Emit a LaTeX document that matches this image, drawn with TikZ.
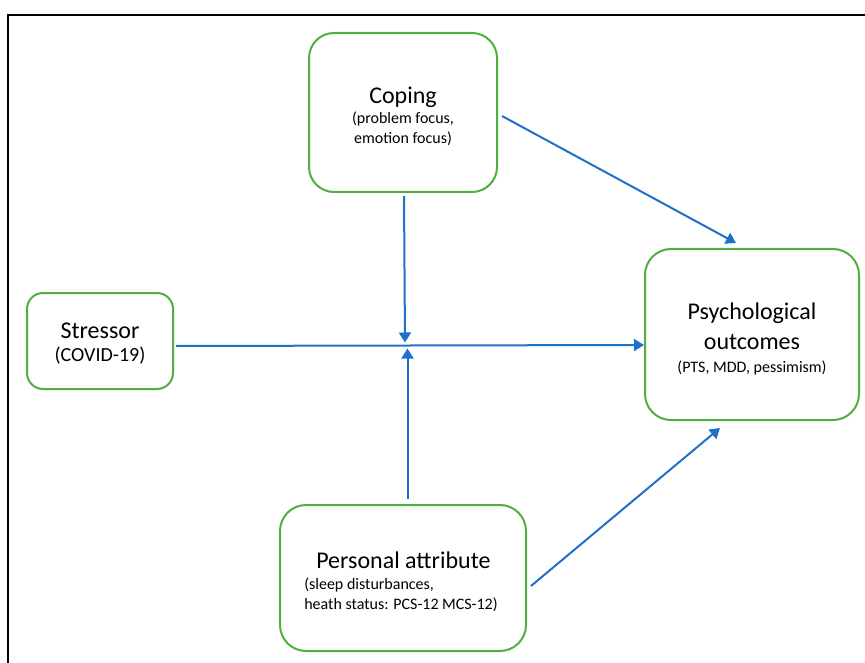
\documentclass[tikz,border=0pt]{standalone}
\usepackage{fontspec}
\setmainfont{Carlito}
\usetikzlibrary{arrows.meta}
\definecolor{boxgreen}{RGB}{80,176,62}
\definecolor{arrblue}{RGB}{31,113,200}
\newcommand{\ttlfont}{\fontsize{24}{29}\selectfont}
\tikzset{
  box/.style={draw=boxgreen, line width=2pt, fill=white, inner sep=0pt},
  boxtext/.style={inner sep=0pt, font=\fontsize{16}{20}\selectfont, align=center},
  arr/.style={draw=arrblue, line width=2pt,
    -{Triangle[length=10pt,width=12pt]}},
  frame/.style={draw=black, line width=2pt}
}
\begin{document}
\begin{tikzpicture}[x=1pt,y=-1pt]
\useasboundingbox (0,0) rectangle (865,663);
\draw[frame] (7.5,663) -- (7.5,15) -- (865,15);

\node[box, rounded corners=25pt, minimum width=188pt, minimum height=159pt]
  (coping) at (403,112.5) {};
\node[boxtext] (copingtext) at ([yshift=-4pt]coping.center)
  {{\ttlfont Coping}\\(problem focus,\\emotion focus)};

\node[box, rounded corners=16pt, minimum width=146pt, minimum height=96pt]
  (stressor) at (100,341) {};
\node[boxtext] (stressortext) at ([yshift=-3pt]stressor.center)
  {{\ttlfont Stressor}\\[3pt]{\fontsize{20}{24}\selectfont (COVID-19)}};

\node[box, rounded corners=26pt, minimum width=214pt, minimum height=171pt]
  (outcomes) at (752,334.5) {};
\node[boxtext] (outcomestext) at ([yshift=-4pt]outcomes.center)
  {{\ttlfont Psychological}\\[10pt]{\ttlfont outcomes}\\[3pt](PTS, MDD, pessimism)};

\node[box, rounded corners=26pt, minimum width=246pt, minimum height=146pt]
  (personal) at (403,578) {};
\node[boxtext, align=left] (personaltext) at ([xshift=-2pt,yshift=-4pt]personal.center)
  {\hspace*{12pt}{\ttlfont Personal attribute}\\[1pt](sleep disturbances,\\heath status: PCS-12 MCS-12)};

\coordinate (jt) at (405,342.5);
\coordinate (jb) at (407.5,348.5);

\draw[arr] ([xshift=1pt,yshift=-3pt]coping.south) -- (jt);
\draw[arr] ([xshift=4.5pt,yshift=5pt]personal.north) -- (jb);
\draw[arr] ([xshift=2pt,yshift=-5pt]stressor.east) -- ([yshift=-10.5pt]outcomes.west);
\draw[arr] ([xshift=4pt,yshift=-3.5pt]coping.east) -- ([xshift=-16pt,yshift=5pt]outcomes.north);
\draw[arr] ([xshift=4pt,yshift=-8pt]personal.east) -- ([xshift=-32pt,yshift=-7pt]outcomes.south);
\end{tikzpicture}
\end{document}
